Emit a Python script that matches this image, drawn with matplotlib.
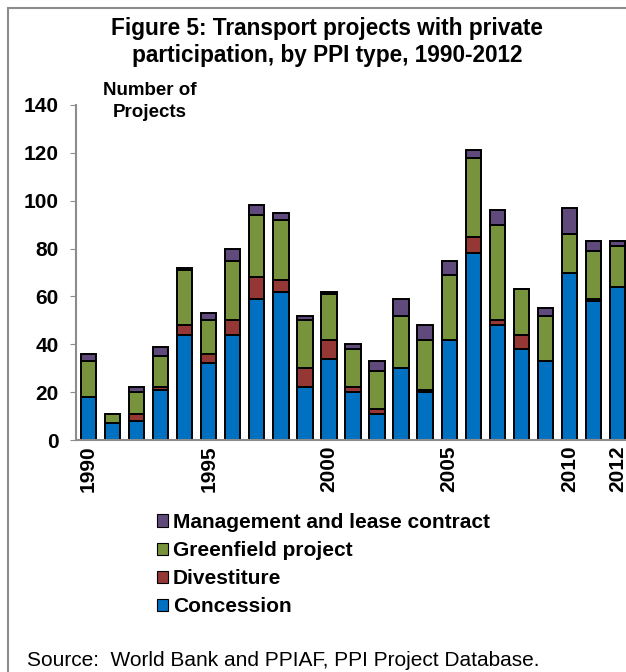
import numpy as np
import matplotlib
matplotlib.use("Agg")
import matplotlib.pyplot as plt
from matplotlib.patches import Rectangle, Patch

plt.rcParams["font.family"] = ["Liberation Sans", "DejaVu Sans"]

# ========= data =========
years = list(range(1990, 2013))
concession = [18, 7, 8, 21, 44, 32, 44, 59, 62, 22, 34, 20, 11, 30, 20, 42, 78, 48, 38, 33, 70, 58, 64]
divestiture = [0, 0, 3, 1, 4, 4, 6, 9, 5, 8, 8, 2, 2, 0, 1, 0, 7, 2, 6, 0, 0, 1, 0]
greenfield = [15, 4, 9, 13, 23, 14, 25, 26, 25, 20, 19, 16, 16, 22, 21, 27, 33, 40, 19, 19, 16, 20, 17]
management = [3, 0, 2, 4, 1, 3, 5, 4, 3, 2, 1, 2, 4, 7, 6, 6, 3, 6, 0, 3, 11, 4, 2]

series_names = ["Concession", "Divestiture", "Greenfield project", "Management and lease contract"]
series_colors = ["#0070C0", "#953735", "#77933C", "#604A7B"]
tick_years = [1990, 1995, 2000, 2005, 2010, 2012]

# ========= figure =========
fig = plt.figure(figsize=(6.26, 6.72), dpi=100)
fig.patches.append(Rectangle((8 / 626, -0.05), 1.2, 1.05 - 8 / 672,
                             transform=fig.transFigure, fill=False,
                             edgecolor="#8c8c8c", linewidth=1.5))

ax = fig.add_axes([76.3 / 626, (672 - 440) / 672, 553.4 / 626, 335 / 672])

x = np.arange(len(years))
bottom = np.zeros(len(years))
for vals, name, col in zip([concession, divestiture, greenfield, management], series_names, series_colors):
    vals = np.array(vals)
    ax.bar(x, vals, bottom=bottom, width=0.64, color=col, edgecolor="black", linewidth=1.4, label=name)
    bottom += vals

ax.set_xlim(-0.5, len(years) - 0.5)
ax.set_ylim(0, 140)
ax.set_yticks(range(0, 141, 20))
ax.set_xticks([years.index(y) for y in tick_years])
ax.set_xticklabels([str(y) for y in tick_years], rotation=90, fontweight="bold", fontsize=15)
ax.tick_params(axis="x", length=0, pad=4)
ax.tick_params(axis="y", direction="out", length=4.5, color="#8c8c8c", labelsize=15, pad=8)
for lab in ax.get_yticklabels():
    lab.set_fontweight("bold")

for s in ["top", "right"]:
    ax.spines[s].set_visible(False)
for s in ["left", "bottom"]:
    ax.spines[s].set_color("#8c8c8c")
    ax.spines[s].set_linewidth(1.5)

# ========= texts =========
fig.text(327 / 626, 1 - 42 / 672, "Figure 5: Transport projects with private\nparticipation, by PPI type, 1990-2012",
         ha="center", va="center", fontsize=16.3, fontweight="bold", linespacing=1.18)
fig.text(150 / 626, 1 - 101.5 / 672, "Number of\nProjects", ha="center", va="center",
         fontsize=13.5, fontweight="bold", linespacing=1.35)
fig.text(27 / 626, 1 - 660 / 672, "Source:  World Bank and PPIAF, PPI Project Database.",
         ha="left", va="center", fontsize=15)

# ========= legend =========
handles = [Patch(facecolor=c, edgecolor="black", linewidth=0.8) for c in series_colors][::-1]
labels = series_names[::-1]
fig.legend(handles, labels, loc="upper left", bbox_to_anchor=(157 / 626, 1 - 513 / 672),
           frameon=False, prop={"weight": "bold", "size": 15}, handlelength=0.55, handleheight=0.55,
           handletextpad=0.2, labelspacing=0.44, borderaxespad=0, borderpad=0)

fig.savefig("out.png", dpi=100)
